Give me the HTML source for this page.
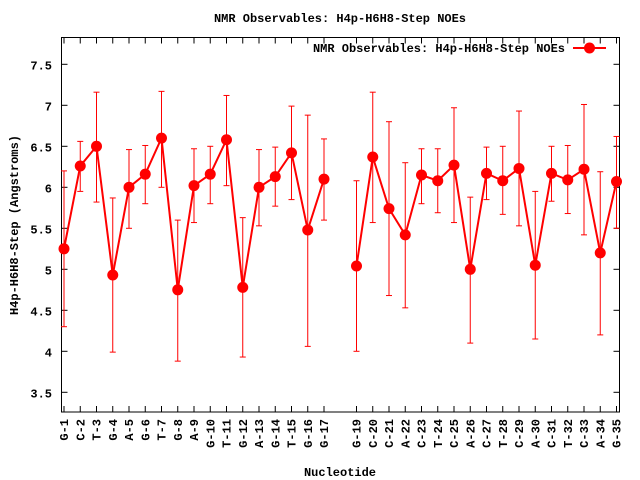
<!DOCTYPE html>
<html><head><meta charset="utf-8"><style>
html,body{margin:0;padding:0;background:#fff}
svg{display:block}
text{font-family:"Liberation Mono",monospace;font-weight:bold;font-size:12px;fill:#000}
</style></head><body>
<svg id="s" width="640" height="480" xmlns="http://www.w3.org/2000/svg"></svg>
<script>
const s=document.getElementById('s');
const L=61.5,R=619.5,T=37.5,B=412;
const X=i=>64+(i-1)*16.25, Y=v=>105.3+(7-v)*82;
let h='';
h+=`<text x="340" y="22" text-anchor="middle" font-size="11">NMR Observables: H4p-H6H8-Step NOEs</text>`;
h+=`<rect x="${L}" y="${T}" width="${R-L}" height="${B-T}" fill="none" stroke="#000" stroke-width="1"/>`;
[3.5,4,4.5,5,5.5,6,6.5,7,7.5].forEach(v=>{const y=Y(v);
h+=`<line x1="${L}" x2="${L+6}" y1="${y}" y2="${y}" stroke="#000"/><line x1="${R-6}" x2="${R}" y1="${y}" y2="${y}" stroke="#000"/>`;
h+=`<text x="52" y="${y+5}" text-anchor="end">${v}</text>`;});
const labels=["G-1","C-2","T-3","G-4","A-5","G-6","T-7","G-8","A-9","G-10","T-11","G-12","A-13","G-14","T-15","G-16","G-17",null,"G-19","C-20","C-21","A-22","C-23","T-24","C-25","A-26","C-27","T-28","C-29","A-30","C-31","T-32","C-33","A-34","G-35"];
labels.forEach((l,k)=>{if(!l)return;const x=X(k+1);
h+=`<line x1="${x}" x2="${x}" y1="${B}" y2="${B-6}" stroke="#000"/><line x1="${x}" x2="${x}" y1="${T}" y2="${T+6}" stroke="#000"/>`;
h+=`<text transform="translate(${x+4},${419}) rotate(-90)" text-anchor="end">${l}</text>`;});
h+=`<text transform="translate(18,225) rotate(-90)" text-anchor="middle" font-size="11">H4p-H6H8-Step (Angstroms)</text>`;
h+=`<text x="340" y="476" text-anchor="middle" font-size="11">Nucleotide</text>`;
const d=[[1,5.25,4.3,6.2],[2,6.26,5.95,6.56],[3,6.5,5.82,7.16],[4,4.93,3.99,5.87],[5,6.0,5.5,6.46],[6,6.16,5.8,6.51],[7,6.6,6.0,7.17],[8,4.75,3.88,5.6],[9,6.02,5.57,6.47],[10,6.16,5.8,6.5],[11,6.58,6.02,7.12],[12,4.78,3.93,5.63],[13,6.0,5.53,6.46],[14,6.13,5.77,6.49],[15,6.42,5.85,6.99],[16,5.48,4.06,6.88],[17,6.1,5.6,6.59],[19,5.04,4.0,6.08],[20,6.37,5.57,7.16],[21,5.74,4.68,6.8],[22,5.42,4.53,6.3],[23,6.15,5.8,6.47],[24,6.08,5.69,6.47],[25,6.27,5.57,6.97],[26,5.0,4.1,5.88],[27,6.17,5.85,6.49],[28,6.08,5.67,6.5],[29,6.23,5.53,6.93],[30,5.05,4.15,5.95],[31,6.17,5.83,6.5],[32,6.09,5.68,6.51],[33,6.22,5.42,7.01],[34,5.2,4.2,6.19],[35,6.07,5.5,6.62]];
d.forEach(([i,v,a,b])=>{const x=X(i);
h+=`<line x1="${x}" x2="${x}" y1="${Y(a)}" y2="${Y(b)}" stroke="red"/><line x1="${x-3}" x2="${x+3}" y1="${Y(a)}" y2="${Y(a)}" stroke="red"/><line x1="${x-3}" x2="${x+3}" y1="${Y(b)}" y2="${Y(b)}" stroke="red"/>`;});
const seg=(a)=>a.map(p=>X(p[0])+','+Y(p[1])).join(' ');
h+=`<polyline points="${seg(d.slice(0,17))}" fill="none" stroke="red" stroke-width="2"/>`;
h+=`<polyline points="${seg(d.slice(17))}" fill="none" stroke="red" stroke-width="2"/>`;
d.forEach(([i,v])=>{h+=`<circle cx="${X(i)}" cy="${Y(v)}" r="5.5" fill="red"/>`;});
h+=`<text x="565" y="52" text-anchor="end" font-size="11">NMR Observables: H4p-H6H8-Step NOEs</text>`;
h+=`<line x1="573" x2="606" y1="48" y2="48" stroke="red" stroke-width="2"/><circle cx="589.5" cy="48" r="5.5" fill="red"/>`;
s.innerHTML=h;
</script>
</body></html>
